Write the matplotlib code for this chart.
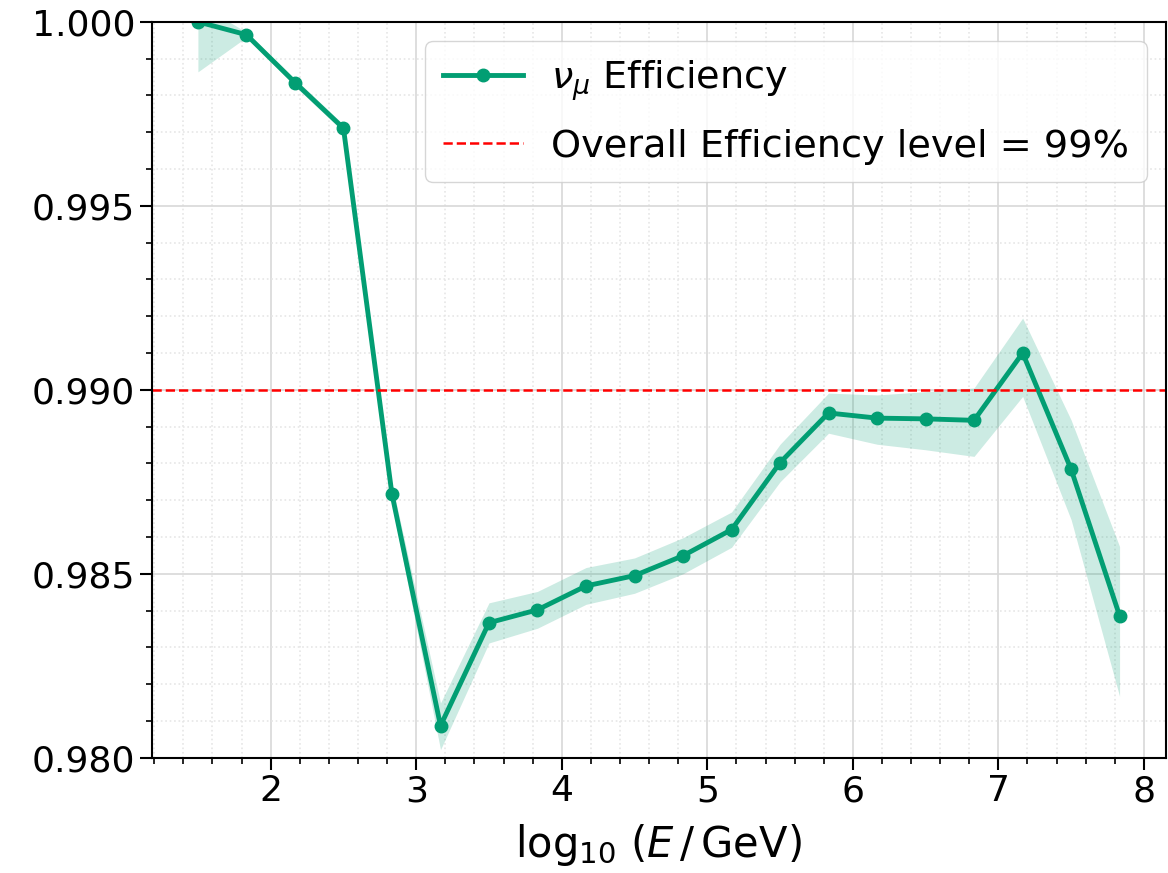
import matplotlib
matplotlib.use("Agg")
import matplotlib.pyplot as plt
from matplotlib.ticker import AutoMinorLocator, FormatStrFormatter

# bin centres in log10(E/GeV)
log_e = [1.5, 1.833, 2.167, 2.5, 2.833, 3.167, 3.5, 3.833, 4.167, 4.5,
         4.833, 5.167, 5.5, 5.833, 6.167, 6.5, 6.833, 7.167, 7.5, 7.833]

efficiency = [1.0000, 0.99965, 0.99835, 0.99711, 0.98717, 0.98087, 0.98367,
              0.98402, 0.98467, 0.98495, 0.98549, 0.98620, 0.98802, 0.98937,
              0.98923, 0.98921, 0.98917, 0.99100, 0.98784, 0.98386]

eff_low = [0.99864, 0.99958, 0.99825, 0.99701, 0.98690, 0.98022, 0.98312,
           0.98352, 0.98417, 0.98447, 0.98500, 0.98572, 0.98750, 0.98882,
           0.98852, 0.98837, 0.98819, 0.98982, 0.98647, 0.98167]

eff_high = [1.0005, 0.99972, 0.99845, 0.99721, 0.98745, 0.98149, 0.98421,
            0.98452, 0.98517, 0.98543, 0.98598, 0.98668, 0.98852, 0.98991,
            0.98986, 0.98995, 0.99005, 0.99195, 0.98918, 0.98574]

overall_level = 0.99

color = "#029e73"

fig = plt.figure(figsize=(11.68, 8.73), dpi=100)
ax = fig.add_axes([0.130, 0.132, 0.868, 0.843])

ax.fill_between(log_e, eff_low, eff_high, color=color, alpha=0.2, linewidth=0)
ax.plot(log_e, efficiency, color=color, linewidth=3.5, marker="o",
        markersize=9, label=r"$\nu_\mu$ Efficiency")
ax.axhline(overall_level, color="red", linestyle="--", linewidth=1.8,
           label="Overall Efficiency level = 99%")

ax.set_ylim(0.980, 1.000)
ax.set_yticks([0.980, 0.985, 0.990, 0.995, 1.000])
ax.yaxis.set_major_formatter(FormatStrFormatter("%.3f"))
ax.xaxis.set_minor_locator(AutoMinorLocator(5))
ax.yaxis.set_minor_locator(AutoMinorLocator(5))

ax.grid(which="major", color="#d8d8d8", linewidth=1.2)
ax.grid(which="minor", color="#e6e6e6", linestyle=":", linewidth=1.2)
ax.set_axisbelow(True)

ax.tick_params(which="major", labelsize=26, length=8.5, width=1.5)
ax.tick_params(which="minor", length=4.5, width=1.2)
for s in ax.spines.values():
    s.set_linewidth(1.5)

ax.set_xlabel(r"$\log_{10}\,(E\,/\,\mathrm{GeV})$", fontsize=30, labelpad=10)

ax.legend(loc="upper right", fontsize=27.5, handlelength=2.1,
          handletextpad=0.75, borderpad=0.45, labelspacing=0.68,
          borderaxespad=0.5)

fig.savefig("out.png", dpi=100)
